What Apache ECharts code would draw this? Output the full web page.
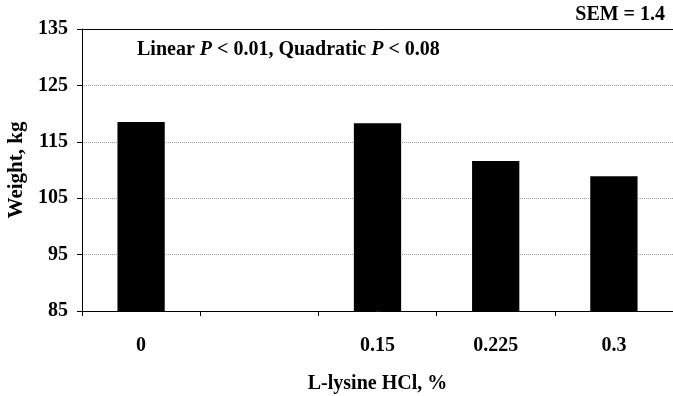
<!DOCTYPE html>
<html>
<head>
<meta charset="utf-8">
<script src="https://cdn.jsdelivr.net/npm/echarts@6/dist/echarts.min.js"></script>
<style>
  html, body { margin: 0; padding: 0; background: #ffffff; }
  #chart { width: 673px; height: 396px; }
</style>
</head>
<body>
<div id="chart"></div>
<script>
// lysine levels (the empty slot keeps the gap between 0 and 0.15)
var levels = ['0', '', '0.15', '0.225', '0.3'];
var weights = [118.5, '-', 118.3, 111.6, 108.9];

var yTicks = { min: 85, max: 135, interval: 10 };

var serif = '"Liberation Serif", "DejaVu Serif", serif';

var myChart = echarts.init(document.getElementById('chart'));

var option = {
    animation: false,
    backgroundColor: '#ffffff',
    grid: {
        left: 82,
        right: 0,
        top: 29,
        bottom: 85,
        outerBoundsMode: 'none'
    },
    xAxis: [
        {
            type: 'category',
            data: levels,
            name: 'L-lysine HCl, %',
            nameLocation: 'middle',
            nameGap: 63,
            nameTextStyle: { fontFamily: serif, fontWeight: 'bold', fontSize: 20, color: '#000' },
            axisLine: { lineStyle: { color: '#000', width: 1 } },
            axisTick: { show: true, length: 5, lineStyle: { color: '#000' } },
            axisLabel: { margin: 25, fontFamily: serif, fontWeight: 'bold', fontSize: 20, color: '#000' }
        },
        {
            // top border line of the plot
            type: 'category',
            position: 'top',
            data: levels,
            axisLine: { show: true, lineStyle: { color: '#000', width: 1 } },
            axisTick: { show: false },
            axisLabel: { show: false }
        }
    ],
    yAxis: {
        type: 'value',
        min: yTicks.min,
        max: yTicks.max,
        interval: yTicks.interval,
        name: 'Weight, kg',
        nameLocation: 'middle',
        nameGap: 51,
        nameTextStyle: { fontFamily: serif, fontWeight: 'bold', fontSize: 21, color: '#000' },
        axisLine: { show: true, lineStyle: { color: '#000', width: 1 } },
        axisTick: { show: true, length: 5, lineStyle: { color: '#000' } },
        axisLabel: { margin: 14, fontFamily: serif, fontWeight: 'bold', fontSize: 20, color: '#000' },
        splitLine: { show: true, lineStyle: { color: '#9a9a9a', type: 'dotted', width: 1 } }
    },
    series: [
        {
            type: 'bar',
            data: weights,
            barWidth: '40%',
            itemStyle: { color: '#000' },
            silent: true
        }
    ],
    graphic: [
        {
            type: 'text',
            left: 137,
            top: 40,
            style: {
                text: '{b|Linear }{i|P}{b| < 0.01, Quadratic }{i|P}{b| < 0.08}',
                rich: {
                    b: { fontFamily: serif, fontWeight: 'bold', fontSize: 20, fill: '#000' },
                    i: { fontFamily: serif, fontWeight: 'bold', fontStyle: 'italic', fontSize: 20, fill: '#000' }
                }
            }
        },
        {
            type: 'text',
            right: 8,
            top: 5,
            style: {
                text: 'SEM = 1.4',
                fontFamily: serif,
                fontWeight: 'bold',
                fontSize: 20,
                fill: '#000'
            }
        }
    ]
};

myChart.setOption(option);
</script>
</body>
</html>
